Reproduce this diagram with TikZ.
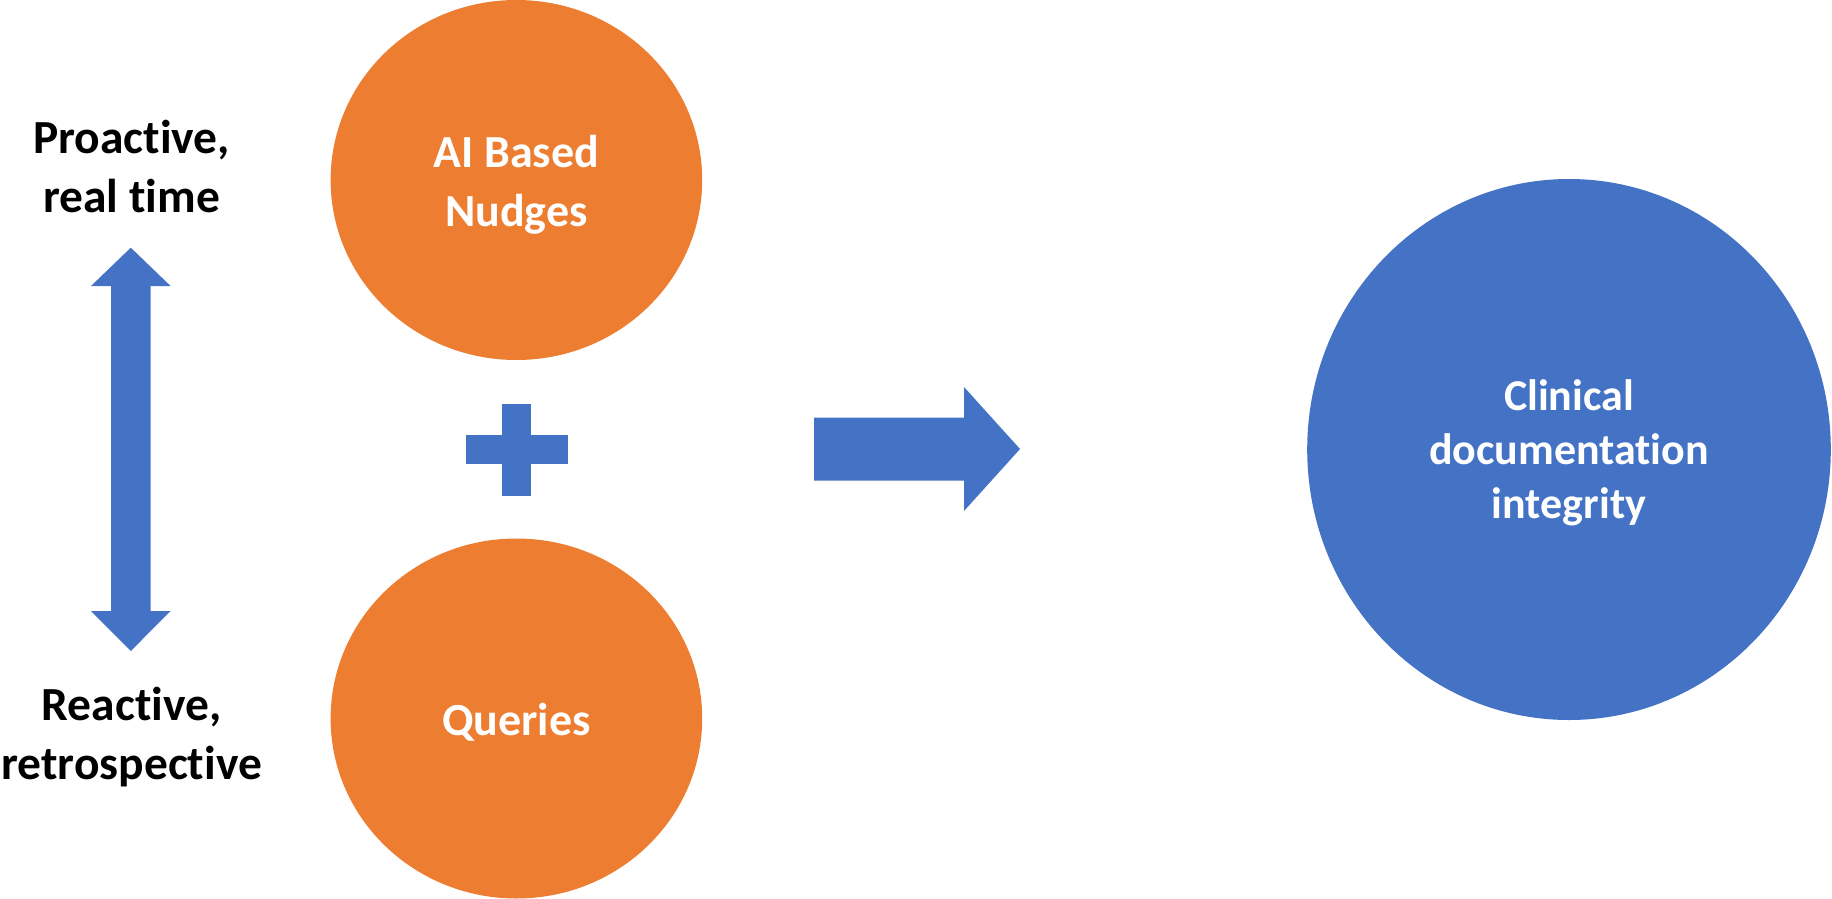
\documentclass[tikz,border=0pt]{standalone}
\usepackage{fontspec}
\setmainfont[Ligatures={NoCommon}]{Carlito}
\usetikzlibrary{shapes.geometric}
\definecolor{offorange}{HTML}{ED7D31}
\definecolor{offblue}{HTML}{4472C4}
\begin{document}
\begin{tikzpicture}[x=1pt,y=-1pt,
  orangeball/.style={ellipse,fill=offorange,draw=none,inner sep=0pt,outer sep=0pt,
     minimum width=371.6pt,minimum height=360pt,text=white,align=center,
     font=\bfseries\fontsize{46}{59}\selectfont},
  blueball/.style={ellipse,fill=offblue,draw=none,inner sep=0pt,outer sep=0pt,
     minimum width=523.6pt,minimum height=541pt,text=white,align=center,
     font=\bfseries\fontsize{44}{54}\selectfont},
  sidelabel/.style={align=center,inner sep=0pt,text=black,
     font=\bfseries\fontsize{47.5}{59}\selectfont},
  shapefill/.style={fill=offblue,draw=none}]
\useasboundingbox (0,0) rectangle (1832,899);
% circles
\fill[offorange] (516.4,180) ellipse [x radius=185.8, y radius=180];
\node[orangeball, fill=none] (nudges) at (516.4,185) {AI Based\\Nudges};
\fill[offorange] (516.4,718.5) ellipse [x radius=185.8, y radius=180];
\node[orangeball, fill=none] (queries) at (516.4,722) {Queries};
\fill[offblue] (1569,449.5) ellipse [x radius=261.8, y radius=270.5];
\node[blueball, fill=none] (cdi) at (1569,452.5) {Clinical\\documentation\\integrity};
% side labels
\node[sidelabel] (pro) at (131.7,167) {Proactive,\\real time};
\node[sidelabel] (re) at (131.7,737) {Reactive,\\retrospective};
% double vertical arrow
\coordinate (vtop) at (130.8,247.7);
\coordinate (vbot) at (130.8,651);
\fill[shapefill] (vtop) -- (170.6,286) -- (150.7,286) -- (150.7,611) -- (170.6,611)
   -- (vbot) -- (91,611) -- (111,611) -- (111,286) -- (91,286) -- cycle;
% plus sign
\coordinate (plus) at (516.4,449.6);
\fill[shapefill] (465.7,435) rectangle (567.7,464.2);
\fill[shapefill] (501.7,403.7) rectangle (531.1,495.5);
% right arrow
\coordinate (rtail) at (814,449);
\coordinate (rtip) at (1020,449);
\fill[shapefill] (814,417.5) -- (964,417.5) -- (964,387) -- (rtip) -- (964,511)
   -- (964,480.5) -- (814,480.5) -- cycle;
\end{tikzpicture}
\end{document}
